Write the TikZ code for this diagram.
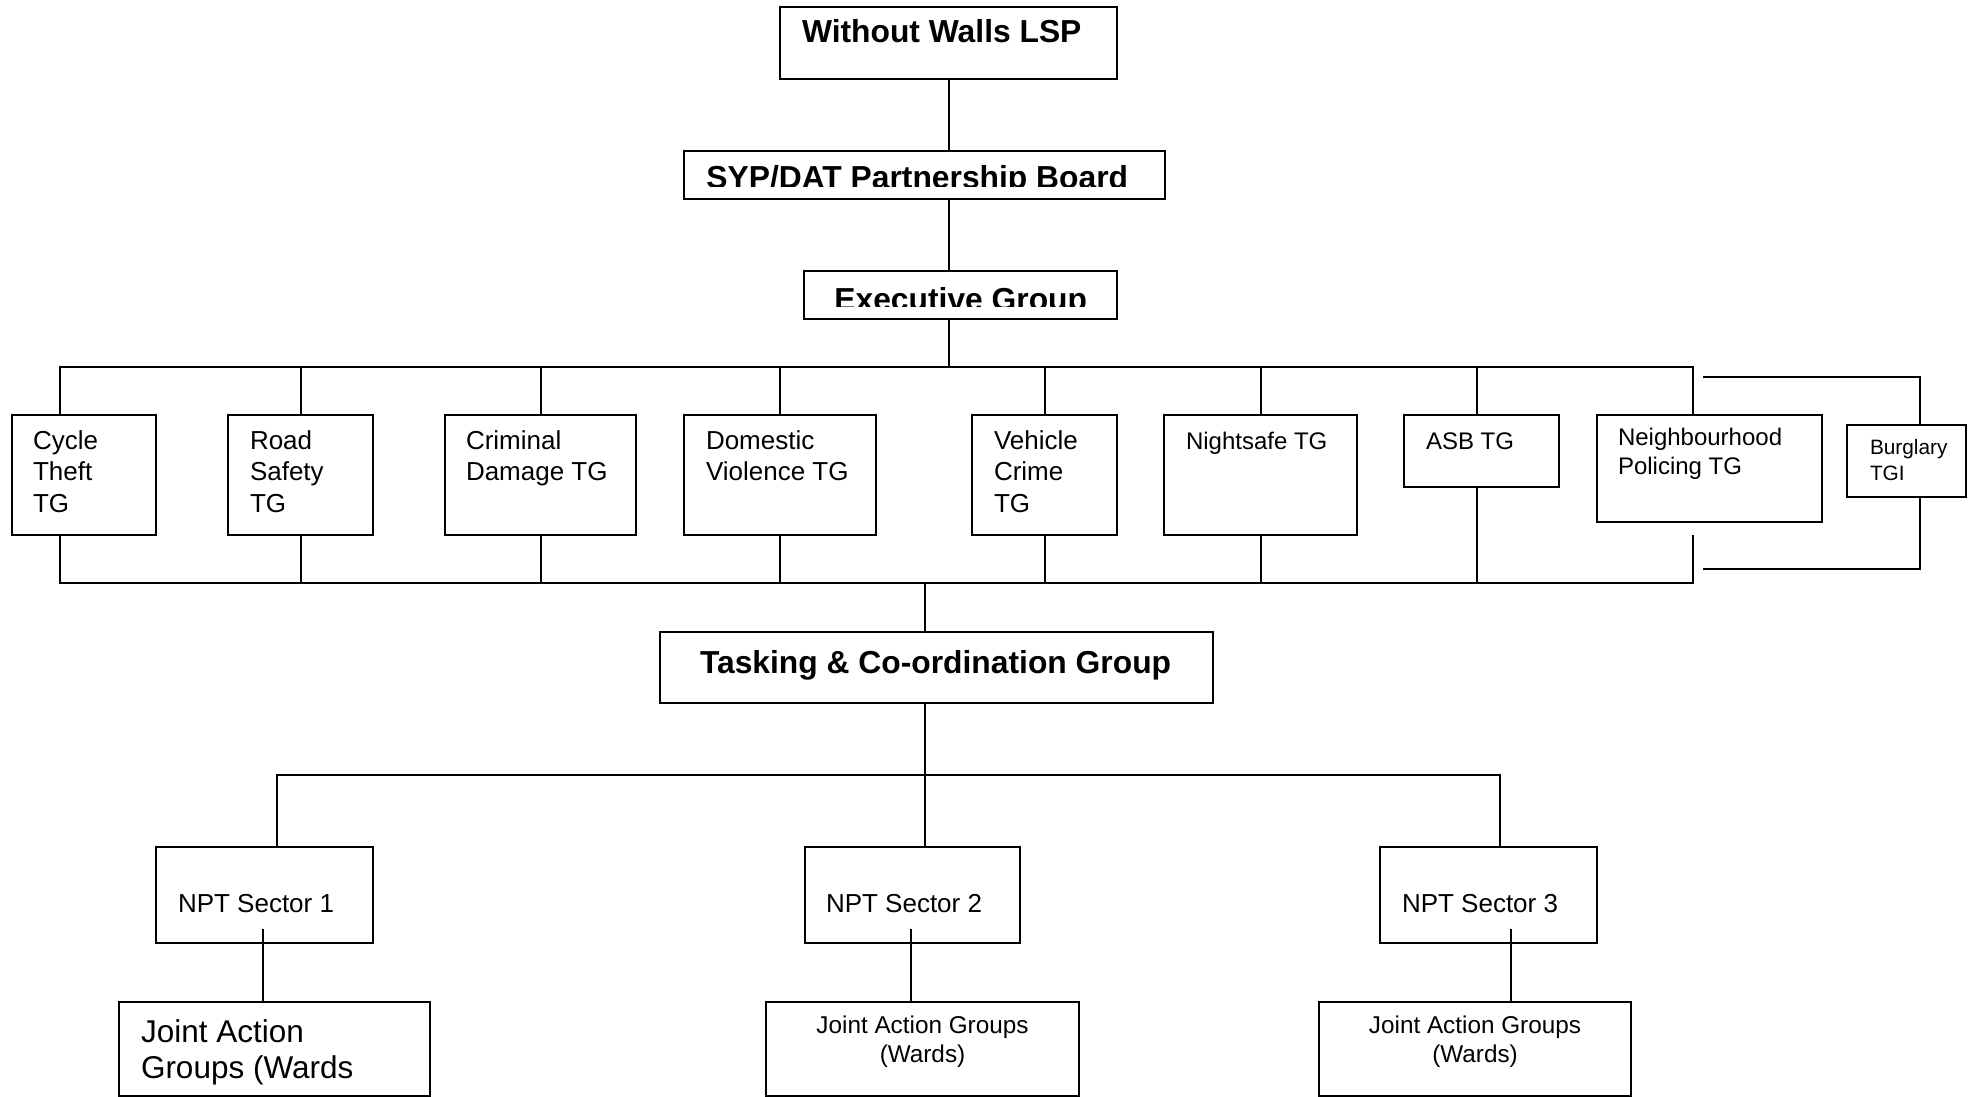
\documentclass[tikz,border=0pt]{standalone}
\usepackage{fontspec}
\setmainfont{Liberation Sans}
\newdimen\px \px=0.5pt
\newcommand\fa{\fontsize{13pt}{15.75pt}\selectfont}
\newcommand\fb{\fontsize{12pt}{14.5pt}\selectfont}
\newcommand\fbold{\fontsize{15.9pt}{18pt}\selectfont\bfseries}
\newcommand\fburg{\fontsize{10.4pt}{13pt}\selectfont}
\newcommand\fj{\fontsize{15.75pt}{18pt}\selectfont}
\newcommand\fjs{\fontsize{12.15pt}{14.5pt}\selectfont}
\newcommand\bxt[6]{\begin{minipage}[c][#2\px][t]{#1\px}#5\lineskiplimit=-50pt\raggedright\leftskip=#3\px\relax\rule{0pt}{#4\px}#6\end{minipage}}
\newcommand\bxc[5]{\begin{minipage}[c][#2\px][t]{#1\px}#4\lineskiplimit=-50pt\centering\rule{0pt}{#3\px}#5\end{minipage}}
\tikzset{
  bx/.style={draw, line width=1pt, inner sep=0pt, outer sep=0pt, anchor=north west},
  ln/.style={line width=1pt},
  cliptxt/.style={anchor=base west, inner sep=0pt, font=\fbold}
}
\begin{document}
\begin{tikzpicture}[x=0.5pt, y=-0.5pt]
\useasboundingbox (0,0) rectangle (1977,1097);
\fill[white] (0,0) rectangle (1977,1097);
% boxes
\node[bx] (ww) at (780,7) {\bxt{337}{72}{22}{36}{\fbold}{Without Walls LSP}};
\node[bx, minimum width=481\px, minimum height=48\px] (syp) at (684,151) {};
\begin{scope}
\clip ([yshift=12\px]syp.south west) rectangle (syp.north east);
\node[cliptxt] (syptxt) at ([xshift=22\px, yshift=-38\px]syp.north west) {SYP/DAT Partnership Board};
\end{scope}
\node[bx, minimum width=313\px, minimum height=48\px] (exec) at (804,271) {};
\begin{scope}
\clip ([yshift=13\px]exec.south west) rectangle (exec.north east);
\node[cliptxt] (exectxt) at ([xshift=30\px, yshift=-39\px]exec.north west) {Executive Group};
\end{scope}
\node[bx] (cyc) at (12,415) {\bxt{144}{120}{21}{34}{\fa}{Cycle\\Theft\\TG}};
\node[bx] (road) at (228,415) {\bxt{145}{120}{22}{34}{\fa}{Road\\Safety\\TG}};
\node[bx] (crim) at (445,415) {\bxt{191}{120}{21}{34}{\fa}{Criminal\\Damage TG}};
\node[bx] (dom) at (684,415) {\bxt{192}{120}{22}{34}{\fa}{Domestic\\Violence TG}};
\node[bx] (veh) at (972,415) {\bxt{145}{120}{22}{34}{\fa}{Vehicle\\Crime\\TG}};
\node[bx] (night) at (1164,415) {\bxt{193}{120}{22}{34}{\fb}{Nightsafe TG}};
\node[bx] (asb) at (1404,415) {\bxt{155}{72}{22}{34}{\fb}{ASB TG}};
\node[bx] (np) at (1597,415) {\bxt{225}{107}{21}{30}{\fb}{Neighbourhood\\Policing TG}};
\node[bx] (burg) at (1847,425) {\bxt{119}{72}{23}{29}{\fburg}{Burglary\\TGI}};
\node[bx] (tcg) at (660,632) {\bxt{553}{71}{40}{41}{\fbold}{Tasking \& Co-ordination Group}};
\node[bx] (s1) at (156,847) {\bxt{217}{96}{22}{65}{\fa}{NPT Sector 1}};
\node[bx] (s2) at (805,847) {\bxt{215}{96}{21}{65}{\fa}{NPT Sector 2}};
\node[bx] (s3) at (1380,847) {\bxt{217}{96}{22}{65}{\fa}{NPT Sector 3}};
\node[bx] (j1) at (119,1002) {\bxt{311}{94}{22}{40}{\fj}{Joint Action\\Groups (Wards}};
\node[bx] (j2) at (766,1002) {\bxc{313}{94}{31}{\fjs}{Joint Action Groups\\(Wards)}};
\node[bx] (j3) at (1319,1002) {\bxc{312}{94}{31}{\fjs}{Joint Action Groups\\(Wards)}};
% coordinates
\coordinate (busL) at (60,367);
\coordinate (busR) at (1693,367);
\coordinate (bbL) at (60,583);
\coordinate (bbR) at (1693,583);
\coordinate (npgap) at (1693,535);
\coordinate (tcx) at (925,583);
\coordinate (lbL) at (277,775);
\coordinate (lbR) at (1500,775);
\coordinate (s1i) at (263,929);
\coordinate (s2i) at (911,929);
\coordinate (s3i) at (1511,929);
\coordinate (bgA) at (1703,377);
\coordinate (bgB) at (1703,569);
% top chain
\draw[ln] (ww.south) -- (ww.south |- syp.north);
\draw[ln] (ww.south |- syp.south) -- (ww.south |- exec.north);
\draw[ln] (ww.south |- exec.south) -- (ww.south |- busL);
% top bus
\draw[ln] (cyc.north -| busL) -- (busL) -- (busR) -- (busR |- np.north);
\draw[ln] (road.north) -- (road.north |- busL);
\draw[ln] (crim.north) -- (crim.north |- busL);
\draw[ln] (dom.north) -- (dom.north |- busL);
\draw[ln] (veh.north) -- (veh.north |- busL);
\draw[ln] (night.north) -- (night.north |- busL);
\draw[ln] ([xshift=-4.5\px]asb.north) -- ([xshift=-4.5\px]asb.north |- busL);
% bottom bus
\draw[ln] (cyc.south -| bbL) -- (bbL) -- (bbR) -- (npgap);
\draw[ln] (road.south) -- (road.south |- bbL);
\draw[ln] (crim.south) -- (crim.south |- bbL);
\draw[ln] (dom.south) -- (dom.south |- bbL);
\draw[ln] (veh.south) -- (veh.south |- bbL);
\draw[ln] (night.south) -- (night.south |- bbL);
\draw[ln] ([xshift=-4.5\px]asb.south) -- ([xshift=-4.5\px]asb.south |- bbL);
% burglary
\draw[ln] (bgA) -| ([xshift=13\px]burg.north);
\draw[ln] ([xshift=13\px]burg.south) |- (bgB);
% tasking
\draw[ln] (tcx) -- (tcx |- tcg.north);
\draw[ln] (tcx |- tcg.south) -- (tcx |- s2.north);
\draw[ln] (lbL |- s1.north) -- (lbL) -- (lbR) -- (lbR |- s3.north);
% sectors to joint action groups
\draw[ln] (s1i) -- (s1i |- j1.north);
\draw[ln] (s2i) -- (s2i |- j2.north);
\draw[ln] (s3i) -- (s3i |- j3.north);
\end{tikzpicture}
\end{document}
